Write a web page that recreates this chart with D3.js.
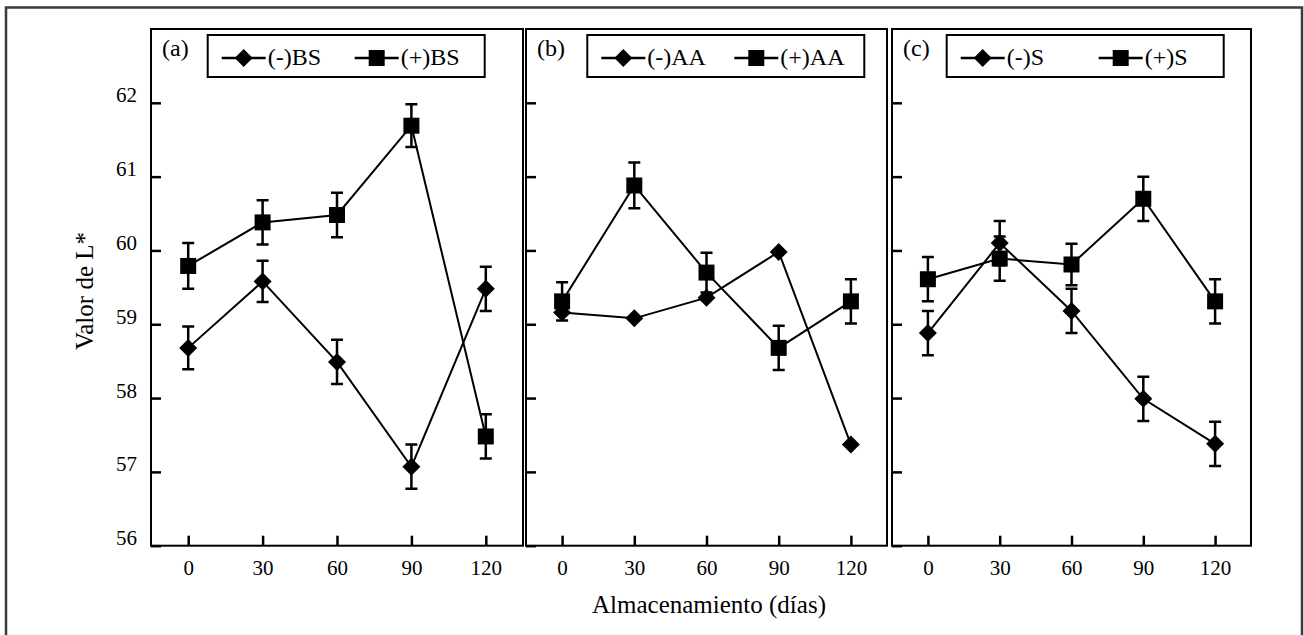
<!DOCTYPE html>
<html>
<head>
<meta charset="utf-8">
<script src="https://cdn.jsdelivr.net/npm/d3@7"></script>
<style>
  body { margin: 0; background: #fff; }
  svg text { font-family: "Liberation Serif", "Times New Roman", serif; fill: #000; }
</style>
</head>
<body>
<div id="chart"></div>
<script>
// storage days and y ticks
var days = [0, 30, 60, 90, 120];
var yTicks = [56, 57, 58, 59, 60, 61, 62];
var panelLabels = ["(a)", "(b)", "(c)"];
var legendNames = [["(-)BS", "(+)BS"], ["(-)AA", "(+)AA"], ["(-)S", "(+)S"]];

// panel a
var bsMinus = [58.68, 59.58, 58.49, 57.07, 59.48];
var bsMinusErr = [0.29, 0.28, 0.3, 0.3, 0.3];
var bsPlus = [59.79, 60.38, 60.48, 61.69, 57.48];
var bsPlusErr = [0.31, 0.3, 0.3, 0.29, 0.3];

// panel b
var aaMinus = [59.16, 59.08, 59.36, 59.98, 57.37];
var aaMinusErr = [0, 0, 0, 0, 0];
var aaPlus = [59.31, 60.88, 59.7, 58.68, 59.31];
var aaPlusErr = [0.26, 0.31, 0.27, 0.3, 0.3];

// panel c
var sMinus = [58.88, 60.1, 59.18, 57.99, 57.38];
var sMinusErr = [0.3, 0.3, 0.3, 0.3, 0.3];
var sPlus = [59.61, 59.89, 59.81, 60.7, 59.31];
var sPlusErr = [0.3, 0.3, 0.28, 0.3, 0.3];

var W = 1304, H = 635;
var svg = d3.select("#chart").append("svg")
  .attr("width", W).attr("height", H);

// outer frame
svg.append("rect")
  .attr("x", 6).attr("y", 7.5)
  .attr("width", 1296).attr("height", 700)
  .attr("fill", "none").attr("stroke", "#3a3a3a").attr("stroke-width", 2.5);

var plotTop = 29, plotBottom = 545.7;
var y = d3.scaleLinear().domain([56, 63]).range([plotBottom, plotTop]);

var panels = [
  { x0: 151, x1: 523, minus: bsMinus, minusErr: bsMinusErr, plus: bsPlus, plusErr: bsPlusErr, legX: 207.7, item2: 147 },
  { x0: 526, x1: 887, minus: aaMinus, minusErr: aaMinusErr, plus: aaPlus, plusErr: aaPlusErr, legX: 587.3, item2: 147 },
  { x0: 892, x1: 1251, minus: sMinus, minusErr: sMinusErr, plus: sPlus, plusErr: sPlusErr, legX: 946.7, item2: 152 }
];

var diamondPath = "M0,-9L9,0L0,9L-9,0Z";
var squarePath = "M-8,-8H8V8H-8Z";

panels.forEach(function(p, i) {
  var x = d3.scaleLinear().domain([-15, 135]).range([p.x0, p.x1]);
  var g = svg.append("g");

  // y axis ticks (inward)
  var ya = g.append("g")
    .attr("transform", "translate(" + p.x0 + ",0)")
    .call(d3.axisLeft(y).tickValues(yTicks).tickSize(-10).tickPadding(14)
      .tickFormat(i === 0 ? d3.format("d") : function() { return ""; }));
  ya.select(".domain").remove();
  ya.selectAll("line").attr("stroke", "#000").attr("stroke-width", 2.5);
  ya.selectAll("text").attr("font-size", 21).attr("dy", "-0.05em");

  // x axis ticks (inward)
  var xa = g.append("g")
    .attr("transform", "translate(0," + plotBottom + ")")
    .call(d3.axisBottom(x).tickValues(days).tickSize(-10).tickPadding(14));
  xa.select(".domain").remove();
  xa.selectAll("line").attr("stroke", "#000").attr("stroke-width", 2.5);
  xa.selectAll("text").attr("font-size", 21);

  // panel border
  g.append("rect")
    .attr("x", p.x0).attr("y", plotTop)
    .attr("width", p.x1 - p.x0).attr("height", plotBottom - plotTop)
    .attr("fill", "none").attr("stroke", "#000").attr("stroke-width", 2);

  var line = d3.line().x(function(d) { return x(d.day); }).y(function(d) { return y(d.v); });

  [["minus", diamondPath], ["plus", squarePath]].forEach(function(s) {
    var vals = p[s[0]], errs = p[s[0] + "Err"];
    var pts = days.map(function(d, k) { return { day: d, v: vals[k], e: errs[k] }; });

    g.append("path").datum(pts)
      .attr("d", line)
      .attr("fill", "none").attr("stroke", "#000").attr("stroke-width", 2);

    g.selectAll(null).data(pts.filter(function(d) { return d.e > 0; }))
      .enter().append("path")
      .attr("d", function(d) {
        var cx = x(d.day), t = y(d.v + d.e), b = y(d.v - d.e);
        return "M" + (cx - 6) + "," + t + "H" + (cx + 6) +
               "M" + cx + "," + t + "V" + b +
               "M" + (cx - 6) + "," + b + "H" + (cx + 6);
      })
      .attr("fill", "none").attr("stroke", "#000").attr("stroke-width", 2.5);

    g.selectAll(null).data(pts).enter().append("path")
      .attr("d", s[1])
      .attr("transform", function(d) { return "translate(" + x(d.day) + "," + y(d.v) + ")"; })
      .attr("fill", "#000");
  });

  // panel label
  g.append("text")
    .attr("x", p.x0 + 11).attr("y", 56)
    .attr("font-size", 24)
    .text(panelLabels[i]);

  // legend
  var lg = g.append("g").attr("transform", "translate(" + p.legX + ",0)");
  lg.append("rect")
    .attr("x", 0).attr("y", 35)
    .attr("width", 277).attr("height", 42)
    .attr("fill", "#fff").attr("stroke", "#000").attr("stroke-width", 2);
  [0, 1].forEach(function(k) {
    var lx = k === 0 ? 14 : p.item2;
    lg.append("line")
      .attr("x1", lx).attr("x2", lx + 44)
      .attr("y1", 58).attr("y2", 58)
      .attr("stroke", "#000").attr("stroke-width", 2.5);
    lg.append("path")
      .attr("d", k === 0 ? diamondPath : squarePath)
      .attr("transform", "translate(" + (lx + 22) + ",58)")
      .attr("fill", "#000");
    lg.append("text")
      .attr("x", lx + 46).attr("y", 65)
      .attr("font-size", 24)
      .text(legendNames[i][k]);
  });
});

// axis titles
svg.append("text")
  .attr("x", 709).attr("y", 613)
  .attr("text-anchor", "middle")
  .attr("font-size", 25)
  .text("Almacenamiento (días)");

svg.append("text")
  .attr("transform", "translate(93,291) rotate(-90)")
  .attr("text-anchor", "middle")
  .attr("font-size", 25)
  .text("Valor de L*");
</script>
</body>
</html>
